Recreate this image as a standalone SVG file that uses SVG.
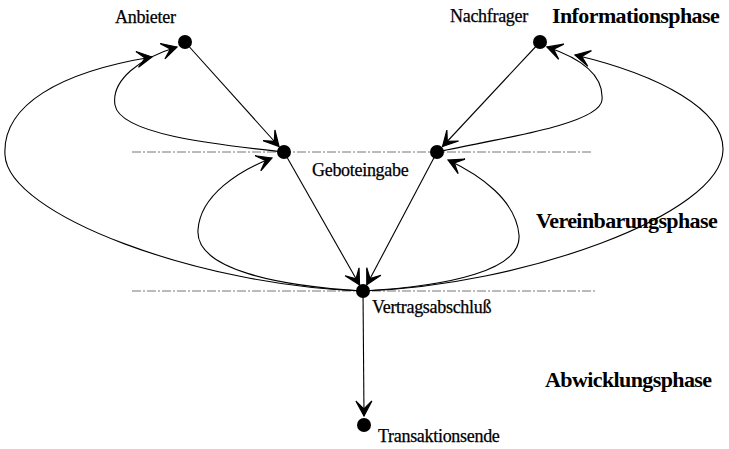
<svg xmlns="http://www.w3.org/2000/svg" width="729" height="449" viewBox="0 0 729 449">
<style>
.lbl{font-family:"Liberation Serif","Times New Roman",serif;font-size:18px;fill:#000;stroke:#000;stroke-width:0.25;letter-spacing:-0.3px}
.phase{font-family:"Liberation Serif","Times New Roman",serif;font-size:22px;font-weight:bold;fill:#000;letter-spacing:-0.6px}
.node{fill:#000}
.edge{fill:none;stroke:#000;stroke-width:1.1}
.sep{fill:none;stroke:#777;stroke-width:1;stroke-dasharray:9 2 2 2}
</style>
<defs>
<marker id="arr" viewBox="-17 -10 19 20" refX="0" refY="0" markerWidth="19" markerHeight="20" markerUnits="userSpaceOnUse" orient="auto">
<path d="M0,0 L-15,-8 L-7,0 L-15,8 Z" fill="#000" stroke="#000" stroke-width="1.2" stroke-linejoin="miter"/>
</marker>
</defs>
<g id="separators">
<line class="sep" x1="132" y1="152" x2="593" y2="152"/>
<line class="sep" x1="132" y1="291" x2="595" y2="291"/>
</g>
<g id="connectors">
<path class="edge" marker-end="url(#arr)" d="M185,42 L279,146.5"/>
<path class="edge" marker-end="url(#arr)" d="M540,42 L442.5,146.5"/>
<path class="edge" marker-end="url(#arr)" d="M284,152 L359.5,284.8"/>
<path class="edge" marker-end="url(#arr)" d="M437,152 L366.8,284.8"/>
<path class="edge" marker-end="url(#arr)" d="M363,291 L364,416"/>
<path class="edge" marker-end="url(#arr)" d="M284,152 C220,145 120,135 115,105 C111,80 140,58 177,47"/>
<path class="edge" marker-end="url(#arr)" d="M363,291 C200,286 8,215 5,155 C2,105 60,72 152,57"/>
<path class="edge" marker-end="url(#arr)" d="M363,291 C280,286 195,270 198,230 C200,195 240,170 272,158"/>
<path class="edge" marker-end="url(#arr)" d="M363,291 C450,286 522,270 519,235 C516,200 480,175 448,160"/>
<path class="edge" marker-end="url(#arr)" d="M437,152 C490,140 600,125 602,100 C604,75 580,58 547,47"/>
<path class="edge" marker-end="url(#arr)" d="M363,291 C520,286 722,215 723,150 C724,110 660,75 575,55"/>
</g>
<g id="anbieter">
<circle class="node" cx="185" cy="42" r="7"/>
<text class="lbl" x="115" y="23">Anbieter</text>
</g>
<g id="nachfrager">
<circle class="node" cx="540" cy="42" r="7"/>
<text class="lbl" x="450" y="22">Nachfrager</text>
</g>
<g id="gebot-anbieter">
<circle class="node" cx="284" cy="152" r="7"/>
</g>
<g id="gebot-nachfrager">
<circle class="node" cx="437" cy="152" r="7"/>
</g>
<g id="geboteingabe-label">
<text class="lbl" x="312" y="176">Geboteingabe</text>
</g>
<g id="vertragsabschluss">
<circle class="node" cx="363" cy="291" r="7"/>
<text class="lbl" x="372" y="313">Vertragsabschluß</text>
</g>
<g id="transaktionsende">
<circle class="node" cx="364" cy="425" r="7"/>
<text class="lbl" x="378" y="442">Transaktionsende</text>
</g>
<g id="phases">
<text class="phase" x="552" y="23">Informationsphase</text>
<text class="phase" x="536" y="228">Vereinbarungsphase</text>
<text class="phase" x="545" y="387">Abwicklungsphase</text>
</g>
</svg>
